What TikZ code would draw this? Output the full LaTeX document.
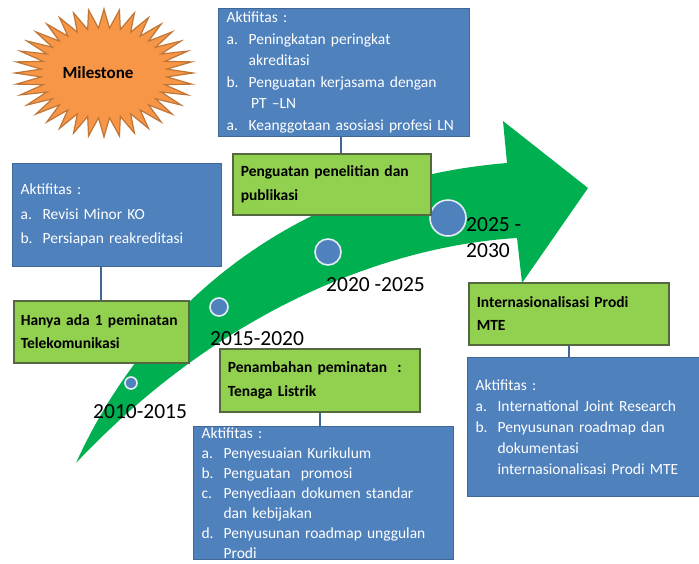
\documentclass[tikz,border=0pt]{standalone}
\usepackage{fontspec}
\setmainfont{Carlito}
\definecolor{boxblue}{HTML}{4F81BD}
\definecolor{boxline}{HTML}{3F6797}
\definecolor{boxgreen}{HTML}{92D050}
\definecolor{greenline}{HTML}{56683F}
\definecolor{arrowgreen}{HTML}{00B050}
\definecolor{burst}{HTML}{F79646}
\definecolor{burstline}{HTML}{C07637}
\newcommand{\itm}[2]{\makebox[22pt][l]{#1}#2}
\newcommand{\cnt}[1]{\hspace*{22pt}#1}
\begin{document}
\begin{tikzpicture}[x=1pt, y=-1pt,
  bluebox/.style={draw=boxline, fill=boxblue, line width=1.2pt, anchor=north west, text=white, align=left, font=\fontsize{15.5}{21.5}\selectfont, inner xsep=8pt},
  greenbox/.style={draw=greenline, fill=boxgreen, line width=1.5pt, anchor=north west, align=left, font=\fontsize{15.5}{23.5}\selectfont\bfseries, inner xsep=8pt},
  link/.style={draw=boxline, line width=1.8pt},
  dot/.style={circle, draw=white!85!boxblue, fill=boxblue, line width=1.6pt, inner sep=0pt},
  year/.style={anchor=base west, font=\fontsize{21.5}{26}\selectfont, inner sep=0pt}]
  \clip (0,0) rectangle (699,563);
  \fill[white] (0,0) rectangle (699,563);
  \draw[draw=burstline, fill=burst, line width=1.2pt] (193,73)
    \foreach \k in {1,...,71} { -- ({104+ifthenelse(mod(\k,2)==0,89,63)*cos(5*\k)}, {73+ifthenelse(mod(\k,2)==0,64,45)*sin(5*\k)}) } -- cycle;
  \node[font=\fontsize{17}{20}\selectfont\bfseries] (mile) at (98,73) {Milestone};
  \fill[arrowgreen] (76,463) .. controls (150,300) and (300,180) .. (507,163)
    -- (503,121) -- (588,188) -- (522,283) -- (517,238)
    .. controls (400,245) and (230,300) .. (76,463) -- cycle;
  \node[dot, minimum size=12pt] (c1) at (131,383) {};
  \node[dot, minimum size=18pt] (c2) at (219,307) {};
  \node[dot, minimum size=26pt] (c3) at (328,252) {};
  \node[dot, minimum size=36pt] (c4) at (448,218) {};
  \node[year] (y1) at (93,418) {2010-2015};
  \node[year] (y2) at (210,345) {2015-2020};
  \node[year] (y3) at (326,291) {2020 -2025};
  \node[year, align=left, anchor=north west, font=\fontsize{21.5}{26}\selectfont] (y4) at (466,217) {2025 -\\2030};
  \node[bluebox, text width=235pt, minimum height=128pt] (t1) at (218,8) {Aktifitas :\\
    \itm{a.}{Peningkatan peringkat}\\ \cnt{akreditasi}\\
    \itm{b.}{Penguatan kerjasama dengan}\\ \cnt{\,PT --LN}\\
    \itm{a.}{Keanggotaan asosiasi profesi LN}};
  \node[greenbox, text width=182pt, minimum height=61pt] (g1) at (232,153) {Penguatan penelitian dan\\publikasi};
  \node[bluebox, text width=193pt, minimum height=103pt, font=\fontsize{15.5}{24.5}\selectfont] (l1) at (12,163) {Aktifitas :\\
    \itm{a.}{Revisi Minor KO}\\ \itm{b.}{Persiapan reakreditasi}};
  \node[greenbox, text width=161pt, inner xsep=7pt, minimum height=62pt] (g2) at (13,300) {Hanya ada 1 peminatan\\Telekomunikasi};
  \node[greenbox, text width=184pt, minimum height=63pt] (g3) at (219,348) {Penambahan peminatan\ \ :\\Tenaga Listrik};
  \node[bluebox, text width=244pt, inner ysep=1pt, font=\fontsize{15.5}{20}\selectfont] (b1) at (193,426) {Aktifitas :\\
    \itm{a.}{Penyesuaian Kurikulum}\\ \itm{b.}{Penguatan\ \ promosi}\\
    \itm{c.}{Penyediaan dokumen standar}\\ \cnt{dan kebijakan}\\
    \itm{d.}{Penyusunan roadmap unggulan}\\ \cnt{Prodi}};
  \node[greenbox, text width=184pt, minimum height=62pt] (g4) at (468,282) {Internasionalisasi Prodi\\MTE};
  \node[bluebox, text width=224pt, minimum height=139pt, font=\fontsize{15.5}{21}\selectfont] (r1) at (467,357) {Aktifitas :\\
    \itm{a.}{International Joint Research}\\ \itm{b.}{Penyusunan roadmap dan}\\
    \cnt{dokumentasi}\\ \cnt{internasionalisasi Prodi MTE}};
  \draw[link] ([xshift=9pt]g1.north) -- ([xshift=9pt]g1.north |- t1.south);
  \draw[link] (g2.north) -- (g2.north |- l1.south);
  \draw[link] (g3.south) -- (g3.south |- b1.north);
  \draw[link] (g4.south) -- (g4.south |- r1.north);
\end{tikzpicture}
\end{document}
